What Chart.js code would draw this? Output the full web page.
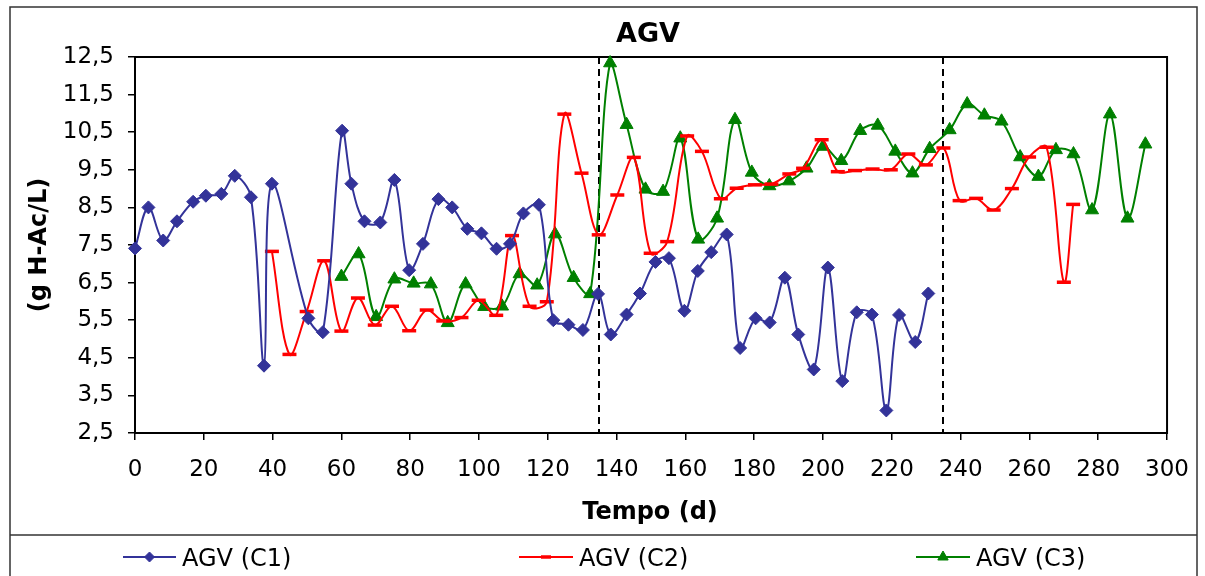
<!DOCTYPE html>
<html>
<head>
<meta charset="utf-8">
<title>AGV</title>
<script src="https://cdn.jsdelivr.net/npm/chart.js@4/dist/chart.umd.min.js"></script>
<style>
  html, body { margin: 0; padding: 0; background: #ffffff; }
  canvas { display: block; }
</style>
</head>
<body>
<canvas id="agv" width="1205" height="576"></canvas>
<script>
// Days of sampling and volatile fatty acid concentrations (g H-Ac/L) per reactor
const c1Days = [0, 3.9, 8.2, 12.2, 16.9, 20.6, 25.1, 29, 33.7, 37.5,
  39.8, 50.4, 54.6, 60.2, 62.9, 66.7, 71.3, 75.4, 79.7, 83.7,
  88.2, 92.2, 96.6, 100.7, 105.1, 109, 112.9, 117.4, 121.6, 126,
  130.2, 134.6, 138.3, 142.9, 146.8, 151.3, 155.2, 159.7, 163.6, 167.5,
  172, 175.9, 180.4, 184.5, 188.9, 192.8, 197.3, 201.4, 205.6, 209.8,
  214.2, 218.4, 222.1, 226.8, 230.6];
const c1Values = [7.41, 8.5, 7.62, 8.13, 8.65, 8.81, 8.86, 9.34, 8.77, 4.29,
  9.13, 5.55, 5.18, 10.54, 9.13, 8.13, 8.1, 9.23, 6.83, 7.53,
  8.72, 8.5, 7.93, 7.81, 7.4, 7.53, 8.34, 8.57, 5.5, 5.38,
  5.24, 6.2, 5.12, 5.65, 6.21, 7.05, 7.15, 5.75, 6.81, 7.31,
  7.78, 4.76, 5.55, 5.44, 6.63, 5.12, 4.19, 6.9, 3.88, 5.71,
  5.65, 3.1, 5.64, 4.92, 6.21];

const c2Days = [39.8, 44.9, 49.9, 55, 60, 64.8, 69.7, 74.7, 79.7, 84.8,
  89.6, 94.9, 99.9, 105, 109.6, 114.7, 119.7, 124.8, 129.8, 134.8,
  140.2, 145, 149.9, 154.7, 160.5, 164.8, 170.3, 174.9, 180.2, 185,
  190.2, 194.2, 199.6, 204.3, 209.3, 214.4, 219.7, 224.8, 229.9, 235,
  239.7, 244.5, 249.6, 254.9, 259.9, 265, 270, 272.7];
const c2Values = [7.33, 4.59, 5.73, 7.08, 5.21, 6.09, 5.37, 5.87, 5.22, 5.77,
  5.48, 5.57, 6.03, 5.63, 7.75, 5.87, 5.99, 10.98, 9.41, 7.77,
  8.83, 9.83, 7.28, 7.59, 10.4, 9.99, 8.73, 9.01, 9.1, 9.12,
  9.39, 9.54, 10.3, 9.45, 9.48, 9.52, 9.5, 9.92, 9.63, 10.08,
  8.68, 8.74, 8.43, 9.0, 9.84, 10.1, 6.51, 8.58];

const c3Days = [60, 65, 70.1, 75.4, 81, 86, 90.9, 96.1, 101.5, 106.7,
  111.8, 116.9, 122.1, 127.5, 132.3, 138.1, 142.9, 148.4, 153.5, 158.5,
  163.7, 169.2, 174.4, 179.3, 184.4, 190.1, 195.2, 200, 205.3, 210.8,
  215.9, 221, 226, 231, 236.8, 241.9, 246.9, 251.9, 257.3, 262.6,
  267.7, 272.8, 278.2, 283.4, 288.5, 293.7];
const c3Values = [6.66, 7.26, 5.59, 6.59, 6.48, 6.46, 5.43, 6.46, 5.86, 5.87,
  6.73, 6.43, 7.79, 6.63, 6.2, 12.34, 10.7, 8.98, 8.92, 10.34,
  7.65, 8.21, 10.83, 9.43, 9.07, 9.2, 9.54, 10.12, 9.74, 10.54,
  10.68, 9.99, 9.41, 10.06, 10.56, 11.25, 10.95, 10.79, 9.84, 9.32,
  10.03, 9.92, 8.43, 10.98, 8.21, 10.18];

// Operational phase boundaries (days)
const phaseDays = [135, 235];

// Axis ticks
const xTickValues = [0, 20, 40, 60, 80, 100, 120, 140, 160, 180, 200, 220, 240, 260, 280, 300];
const yTickValues = [2.5, 3.5, 4.5, 5.5, 6.5, 7.5, 8.5, 9.5, 10.5, 11.5, 12.5];
const yTickLabels = ['2,5', '3,5', '4,5', '5,5', '6,5', '7,5', '8,5', '9,5', '10,5', '11,5', '12,5'];

const seriesNames = ['AGV (C1)', 'AGV (C2)', 'AGV (C3)'];

const FONT = '"DejaVu Sans", Verdana, sans-serif';
const C1_COLOR = '#333399';
const C2_COLOR = '#ff0000';
const C3_COLOR = '#008000';

function toPoints(days, values) {
  return days.map((d, i) => ({ x: d, y: values[i] }));
}

const seriesStyles = [
  { color: C1_COLOR, pointStyle: 'rectRot', radius: 6.5, borderWidth: 1, legendRadius: 5 },
  { color: C2_COLOR, pointStyle: 'line', radius: 7, borderWidth: 3.5, legendRadius: 5 },
  { color: C3_COLOR, pointStyle: 'triangle', radius: 7.5, borderWidth: 1, legendRadius: 6 }
];

function makeDataset(label, days, values, style) {
  return {
    label: label,
    data: toPoints(days, values),
    borderColor: style.color,
    backgroundColor: style.color,
    borderWidth: 2,
    tension: 0.35,
    pointStyle: style.pointStyle,
    pointRadius: style.radius,
    pointBorderWidth: style.borderWidth,
    pointBackgroundColor: style.color,
    pointBorderColor: style.color,
    clip: false
  };
}

// Frame, phase separators, titles and legend
const decorations = {
  id: 'decorations',
  beforeDatasetsDraw(chart) {
    const { ctx, chartArea: a, scales: { x } } = chart;
    ctx.save();
    // phase separators
    ctx.strokeStyle = '#000000';
    ctx.lineWidth = 2;
    ctx.setLineDash([7, 5]);
    phaseDays.forEach(d => {
      const px = Math.round(x.getPixelForValue(d));
      ctx.beginPath();
      ctx.moveTo(px, a.top);
      ctx.lineTo(px, a.bottom);
      ctx.stroke();
    });
    ctx.setLineDash([]);
    // plot frame
    ctx.lineWidth = 2;
    ctx.strokeRect(a.left, a.top, a.right - a.left, a.bottom - a.top);
    ctx.restore();
  },
  afterDraw(chart) {
    const { ctx, chartArea: a } = chart;
    ctx.save();
    // outer border and legend separator
    ctx.strokeStyle = '#333333';
    ctx.lineWidth = 1.5;
    ctx.strokeRect(10, 7, 1187, 600);
    ctx.beginPath();
    ctx.moveTo(10, 535);
    ctx.lineTo(1197, 535);
    ctx.stroke();

    // chart title
    ctx.fillStyle = '#000000';
    ctx.textAlign = 'center';
    ctx.textBaseline = 'alphabetic';
    ctx.font = 'bold 27px ' + FONT;
    ctx.fillText('AGV', 648, 42);

    // axis titles
    ctx.font = 'bold 24px ' + FONT;
    ctx.fillText('Tempo (d)', 650, 519);
    ctx.save();
    ctx.translate(46, (a.top + a.bottom) / 2);
    ctx.rotate(-Math.PI / 2);
    ctx.fillText('(g H-Ac/L)', 0, 0);
    ctx.restore();

    // legend
    const legendLines = [[123, 176], [519, 573], [916, 970]];
    const ly = 557;
    ctx.font = '24px ' + FONT;
    ctx.textAlign = 'left';
    seriesNames.forEach((name, i) => {
      const st = seriesStyles[i];
      const [x0, x1] = legendLines[i];
      ctx.strokeStyle = st.color;
      ctx.fillStyle = st.color;
      ctx.lineWidth = 2;
      ctx.beginPath();
      ctx.moveTo(x0, ly);
      ctx.lineTo(x1, ly);
      ctx.stroke();
      ctx.lineWidth = st.borderWidth;
      Chart.helpers.drawPoint(ctx, {
        pointStyle: st.pointStyle,
        radius: st.legendRadius,
        rotation: 0,
        borderWidth: st.borderWidth
      }, (x0 + x1) / 2, ly);
      ctx.fillStyle = '#000000';
      ctx.fillText(name, x1 + 6, 566);
    });
    ctx.restore();
  }
};

new Chart(document.getElementById('agv'), {
  type: 'line',
  data: {
    datasets: [
      makeDataset(seriesNames[0], c1Days, c1Values, seriesStyles[0]),
      makeDataset(seriesNames[1], c2Days, c2Values, seriesStyles[1]),
      makeDataset(seriesNames[2], c3Days, c3Values, seriesStyles[2])
    ]
  },
  options: {
    responsive: false,
    animation: false,
    devicePixelRatio: 1,
    layout: { padding: { left: 0, top: 57, right: 33, bottom: 0 } },
    plugins: {
      legend: { display: false },
      title: { display: false },
      tooltip: { enabled: false }
    },
    scales: {
      x: {
        type: 'linear',
        min: 0,
        max: 300,
        afterFit(scale) { scale.height = 143; },
        afterBuildTicks(scale) { scale.ticks = xTickValues.map(v => ({ value: v })); },
        grid: { drawOnChartArea: false, drawTicks: true, tickLength: 7, color: '#000000', lineWidth: 1.5 },
        border: { display: true, color: '#000000', width: 2 },
        ticks: {
          color: '#000000',
          font: { family: FONT, size: 23 },
          padding: 16,
          maxRotation: 0,
          autoSkip: false,
          callback: (v) => String(v)
        }
      },
      y: {
        type: 'linear',
        min: 2.5,
        max: 12.5,
        afterFit(scale) { scale.width = 135; },
        afterBuildTicks(scale) { scale.ticks = yTickValues.map(v => ({ value: v })); },
        grid: { drawOnChartArea: false, drawTicks: true, tickLength: 7, color: '#000000', lineWidth: 1.5 },
        border: { display: true, color: '#000000', width: 2 },
        ticks: {
          color: '#000000',
          font: { family: FONT, size: 23 },
          padding: 14,
          autoSkip: false,
          callback: (v) => {
            const i = yTickValues.indexOf(v);
            return i >= 0 ? yTickLabels[i] : '';
          }
        }
      }
    }
  },
  plugins: [decorations]
});
</script>
</body>
</html>
